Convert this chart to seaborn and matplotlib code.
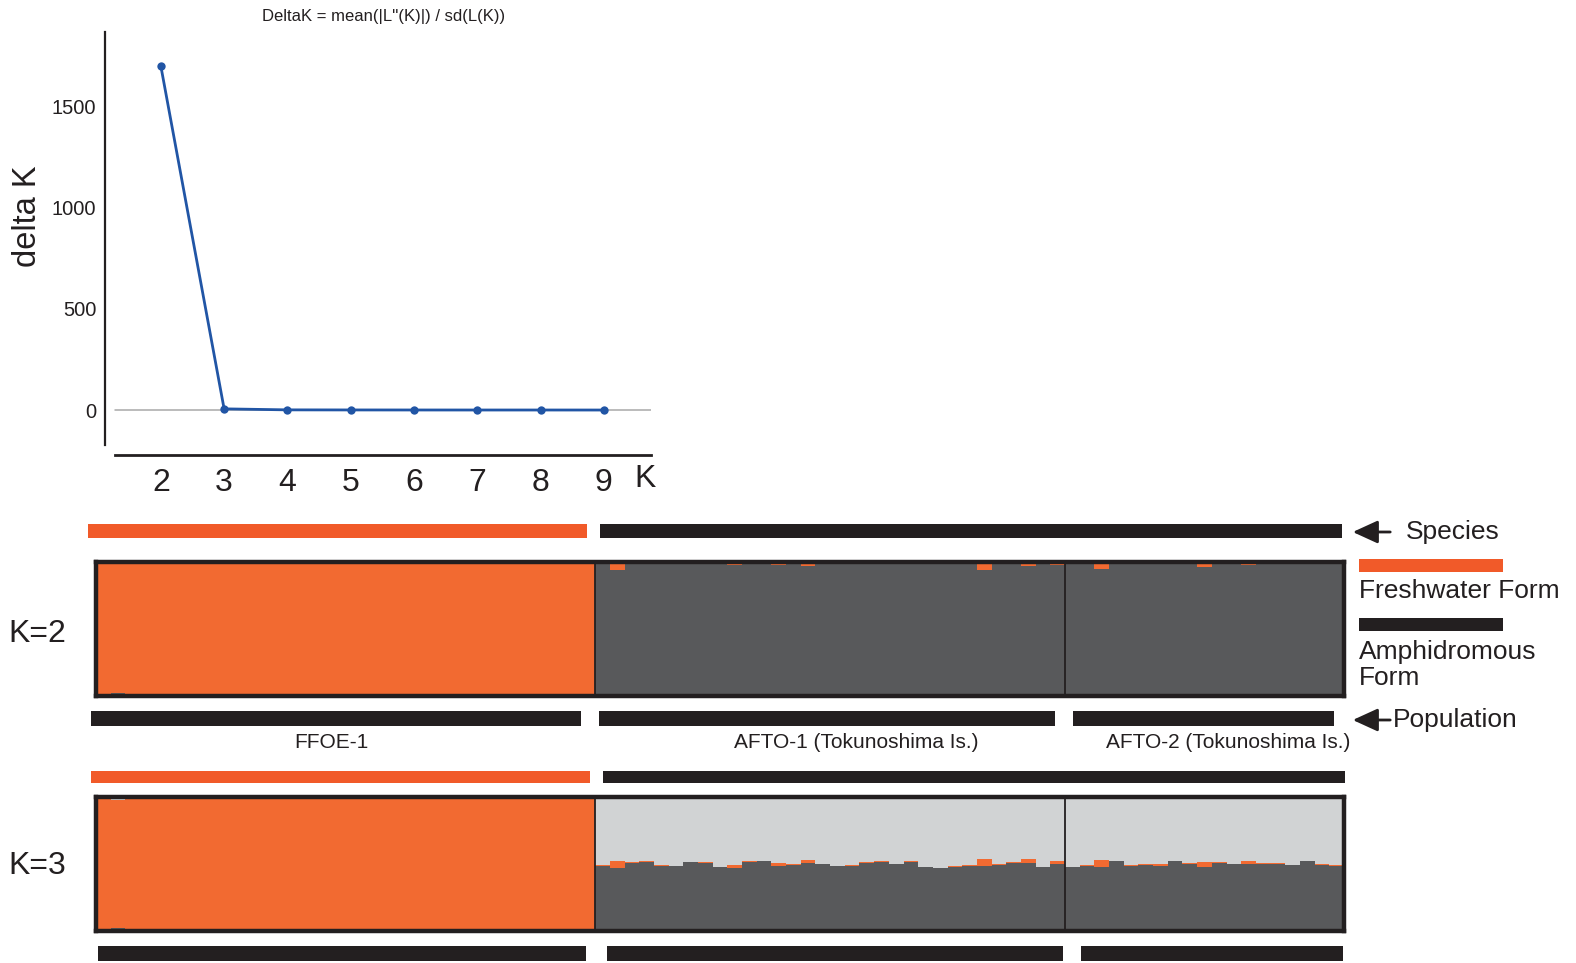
import numpy as np
import pandas as pd
import matplotlib
matplotlib.use("Agg")
import matplotlib.pyplot as plt
import seaborn as sns
from matplotlib.patches import Rectangle, FancyArrowPatch

# ---------------- data ----------------
# Evanno delta K by number of clusters
k_values = [2, 3, 4, 5, 6, 7, 8, 9]
delta_k = [1700, 6, 1.0, 0.6, 0.4, 0.3, 0.3, 0.2]
delta_k_ticks = [0, 500, 1000, 1500]

populations = ["FFOE-1", "AFTO-1 (Tokunoshima Is.)", "AFTO-2 (Tokunoshima Is.)"]
species_groups = ["Freshwater Form", "Amphidromous Form"]
pop_species = [0, 1, 1]

# K=2: per-individual membership (dark grey cluster at bottom, orange on top)
k2_ffoe_grey = [0, 0.022, 0, 0.008, 0, 0, 0, 0, 0, 0, 0, 0, 0, 0, 0.008, 0, 0,
                0, 0, 0, 0, 0, 0, 0, 0, 0, 0.008, 0.008, 0, 0, 0.008, 0, 0, 0]
k2_afto1_orange = [0.015, 0.06, 0.008, 0.008, 0.012, 0.008, 0.008, 0.008, 0.008,
                   0.02, 0.012, 0.008, 0.02, 0.008, 0.03, 0.008, 0.008, 0.008,
                   0.008, 0.008, 0.008, 0.008, 0.008, 0.008, 0.008, 0.008, 0.06,
                   0.008, 0.008, 0.03, 0.008, 0.02]
k2_afto2_orange = [0.008, 0.008, 0.05, 0.008, 0.008, 0.008, 0.012, 0.008, 0.008,
                   0.035, 0.008, 0.008, 0.02, 0.012, 0.008, 0.008, 0.012, 0.008,
                   0.008]

# K=3: dark grey (bottom), orange (middle), light grey (top)
k3_ffoe_grey = [0, 0.022, 0, 0.008, 0, 0, 0, 0, 0, 0, 0, 0, 0, 0, 0.008, 0, 0,
                0, 0, 0, 0, 0, 0.008, 0, 0, 0, 0.008, 0.008, 0, 0, 0.008, 0, 0, 0]
k3_ffoe_light = [0, 0.025, 0, 0.012, 0, 0, 0, 0, 0, 0, 0, 0, 0, 0, 0.012, 0, 0,
                 0, 0, 0, 0, 0, 0.012, 0, 0, 0, 0.012, 0.012, 0, 0, 0.012, 0, 0, 0]
k3_afto1_grey = [0.485, 0.47, 0.507, 0.515, 0.485, 0.485, 0.515, 0.507, 0.478,
                 0.47, 0.515, 0.522, 0.485, 0.492, 0.507, 0.5, 0.485, 0.485,
                 0.507, 0.515, 0.5, 0.515, 0.478, 0.47, 0.478, 0.485, 0.485,
                 0.492, 0.507, 0.507, 0.478, 0.5]
k3_afto1_orange = [0.008, 0.052, 0.008, 0.008, 0.008, 0, 0, 0.008, 0, 0.022,
                   0.008, 0, 0.022, 0.008, 0.022, 0, 0, 0.008, 0.008, 0.008, 0,
                   0.008, 0, 0, 0.008, 0.008, 0.052, 0.008, 0.008, 0.03, 0, 0.022]
k3_afto2_grey = [0.478, 0.485, 0.478, 0.522, 0.485, 0.492, 0.485, 0.522, 0.5,
                 0.478, 0.507, 0.5, 0.5, 0.5, 0.5, 0.492, 0.522, 0.492, 0.485]
k3_afto2_orange = [0, 0.008, 0.052, 0, 0.008, 0.008, 0.015, 0, 0.008, 0.037,
                   0.008, 0, 0.022, 0.008, 0.008, 0, 0, 0.008, 0.008]

# ---------------- assemble tables ----------------
pop_sizes = [len(k2_ffoe_grey), len(k2_afto1_orange), len(k2_afto2_orange)]
n_ind = sum(pop_sizes)
edges = np.concatenate([[0], np.cumsum(pop_sizes)]) - 0.5

k2 = pd.DataFrame({"ind": np.arange(n_ind)})
k2["grey"] = np.concatenate([k2_ffoe_grey,
                             1 - np.array(k2_afto1_orange),
                             1 - np.array(k2_afto2_orange)])
k2["orange"] = 1 - k2["grey"]

k3 = pd.DataFrame({"ind": np.arange(n_ind)})
k3["grey"] = np.concatenate([k3_ffoe_grey, k3_afto1_grey, k3_afto2_grey])
k3["orange"] = np.concatenate([1 - np.array(k3_ffoe_grey) - np.array(k3_ffoe_light),
                               k3_afto1_orange, k3_afto2_orange])
k3["light"] = 1 - k3["grey"] - k3["orange"]

# ---------------- style ----------------
sns.set_theme(style="white")
plt.rcParams["font.family"] = ["Liberation Sans", "DejaVu Sans"]

INK = "#231F20"
ORANGE = "#F26A31"
ORANGE_BAR = "#F15A29"
DARK = "#58595B"
LIGHT = "#D1D3D4"
BLUE = "#2155A5"

W, H = 1576, 963


def frac(x0, y0, x1, y1):
    return [x0 / W, 1 - y1 / H, (x1 - x0) / W, (y1 - y0) / H]


fig = plt.figure(figsize=(W / 100, H / 100), dpi=100)

# ---------------- delta K panel ----------------
ax = fig.add_axes(frac(104.5, 32, 651.3, 455))
ax.set_xlim(1.11, 9.75)
ax.set_ylim(-222, 1868)
ax.axhline(0, xmin=(114.6 - 104.5) / (651.3 - 104.5), xmax=1,
           color="#A8A8A8", lw=1.1, zorder=0)
sns.lineplot(x=k_values, y=delta_k, ax=ax, color=BLUE, lw=2.0,
             marker="o", markersize=6, markeredgewidth=0, zorder=3)
for side in ("top", "right"):
    ax.spines[side].set_visible(False)
ax.spines["left"].set_bounds(-173, 1868)
ax.spines["bottom"].set_bounds(1.27, 9.75)
ax.spines["left"].set_color(INK)
ax.spines["bottom"].set_color(INK)
ax.spines["left"].set_linewidth(1.6)
ax.spines["bottom"].set_linewidth(2.0)
ax.set_xticks(k_values)
ax.set_yticks(delta_k_ticks)
ax.tick_params(axis="x", direction="in", length=5, width=0.8, colors=INK,
               labelsize=23, pad=9)
ax.tick_params(axis="y", direction="in", length=5, width=0.8, colors=INK,
               labelsize=14.5, pad=6)
ax.set_xlabel("")
ax.set_ylabel("")
fig.text(384 / W, 1 - 17 / H, "DeltaK = mean(|L''(K)|) / sd(L(K))",
         ha="center", va="center", fontsize=12, color=INK)
fig.text(28 / W, 1 - 216 / H, "delta K", rotation=90, ha="center",
         va="center", fontsize=23.5, color=INK)
fig.text(645 / W, 1 - 479 / H, "K", ha="center", va="center",
         fontsize=23, color=INK)


# ---------------- structure panels ----------------
def structure_panel(ax, df, layers):
    # layers listed bottom to top; draw cumulative heights from the top down
    cum = np.zeros(len(df))
    stacks = []
    for col, color in layers:
        cum = cum + df[col].to_numpy()
        stacks.append((cum.copy(), color))
    for heights, color in reversed(stacks):
        sns.barplot(x=df["ind"], y=heights, color=color, width=1.0,
                    linewidth=0, saturation=1, errorbar=None, ax=ax)
    ax.set_xlim(-0.5, n_ind - 0.5)
    ax.set_ylim(0, 1)
    ax.set_facecolor(INK)
    ax.set_xticks([])
    ax.set_yticks([])
    ax.set_xlabel("")
    ax.set_ylabel("")
    for sp in ax.spines.values():
        sp.set_visible(True)
        sp.set_color(INK)
        sp.set_linewidth(3.2)
    for e in edges[1:-1]:
        ax.axvline(e, color=INK, lw=1.3)


def span_bar(ax, x0, x1, y0, y1, color):
    ax.add_patch(Rectangle((x0, y0), x1 - x0, y1 - y0, facecolor=color,
                           edgecolor="none", clip_on=False,
                           transform=ax.transData, zorder=5))


ax2 = fig.add_axes(frac(96, 562, 1344, 696))
structure_panel(ax2, k2, [("grey", DARK), ("orange", ORANGE)])
ax3 = fig.add_axes(frac(96, 797, 1344, 931))
structure_panel(ax3, k3, [("grey", DARK), ("orange", ORANGE), ("light", LIGHT)])

species_edges = [edges[0], edges[1], edges[-1]]
species_colors = [ORANGE_BAR, INK]

# species bars above each panel
for axx, (ya, yb), pads in [
    (ax2, (1.179, 1.284), [(-0.55, 0.55), (0.33, 0.12)]),
    (ax3, (1.104, 1.194), [(-0.37, 0.35), (0.54, -0.1)]),
]:
    for s in range(2):
        span_bar(axx, species_edges[s] + pads[s][0],
                 species_edges[s + 1] - pads[s][1], ya, yb, species_colors[s])

# population bars below each panel
pop_pads = {
    "k2": [(-0.37, 0.96), (0.26, 0.67), (0.55, 0.67)],
    "k3": [(0.17, 0.6), (0.8, 0.13), (1.1, 0.1)],
}
for axx, key in [(ax2, "k2"), (ax3, "k3")]:
    for p in range(3):
        span_bar(axx, edges[p] + pop_pads[key][p][0],
                 edges[p + 1] - pop_pads[key][p][1], -0.224, -0.112, INK)

label_shift = [-1.0, 1.8, 1.6]
for p, name in enumerate(populations):
    cx = (edges[p] + edges[p + 1]) / 2 + label_shift[p]
    ax2.text(cx, -0.35, name, ha="center", va="center", fontsize=15,
             color=INK, clip_on=False)

# row labels
fig.text(8 / W, 1 - 634 / H, "K=2", ha="left", va="center", fontsize=23, color=INK)
fig.text(8 / W, 1 - 866 / H, "K=3", ha="left", va="center", fontsize=23, color=INK)

# legend / guide on the right
for (x0, y0, x1, y1), c in [((1359, 559, 1503, 572), ORANGE_BAR),
                            ((1359, 618, 1503, 631), INK)]:
    fig.patches.append(Rectangle((x0 / W, 1 - y1 / H), (x1 - x0) / W,
                                 (y1 - y0) / H, transform=fig.transFigure,
                                 facecolor=c, edgecolor="none"))
fig.text(1359 / W, 1 - 591 / H, species_groups[0], ha="left", va="center",
         fontsize=19, color=INK)
fig.text(1359 / W, 1 - 665 / H, "Amphidromous\nForm", ha="left", va="center",
         fontsize=19, color=INK, linespacing=1.08)

for y, label, tx in [(532, "Species", 1406), (720, "Population", 1393)]:
    fig.add_artist(FancyArrowPatch((1393 / W, 1 - y / H), (1350 / W, 1 - y / H),
                                   transform=fig.transFigure,
                                   arrowstyle="-|>,head_length=0.7,head_width=0.32",
                                   mutation_scale=22, lw=2, color=INK))
    fig.text(tx / W, 1 - y / H, label, ha="left", va="center", fontsize=19,
             color=INK)

fig.savefig("out.png", dpi=100, facecolor="white")
